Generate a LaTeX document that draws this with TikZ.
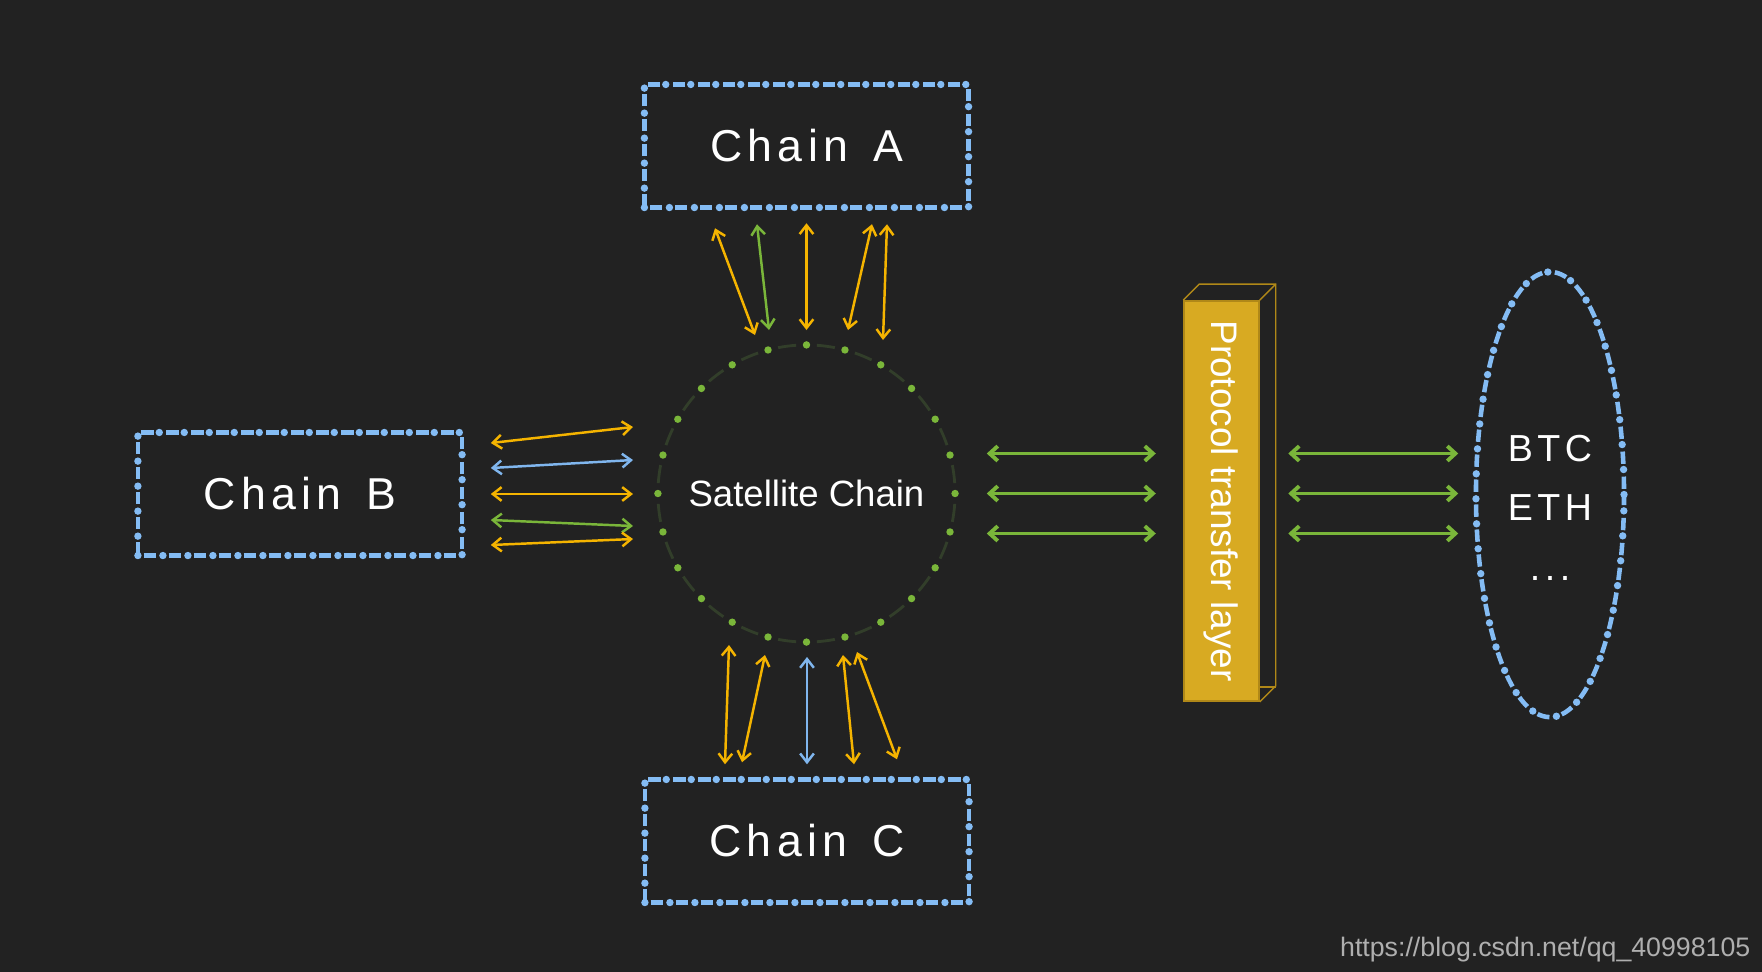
\documentclass[tikz,border=0pt]{standalone}
\usepackage{fontspec}
\setmainfont{Liberation Sans}
\usepackage{tikz}
\usetikzlibrary{positioning,arrows.meta,shapes.geometric,calc}
\definecolor{darkbg}{RGB}{34,34,34}
\definecolor{chainblue}{RGB}{132,188,244}
\definecolor{linkamber}{RGB}{245,180,0}
\definecolor{linkgreen}{RGB}{122,182,58}
\definecolor{linkblue}{RGB}{128,182,238}
\definecolor{ringdash}{RGB}{50,62,42}
\definecolor{layergold}{RGB}{216,170,34}
\definecolor{layeredge}{RGB}{176,136,24}
\definecolor{markgray}{RGB}{175,175,175}
\newfontfamily\chainfont[LetterSpace=12]{Liberation Sans}
\tikzset{
  dotdash/.style={preaction={draw=chainblue, line width=1.3pt, dash pattern=on 3.5pt off 3.61pt, dash phase=5.5pt},
                  postaction={draw=chainblue, line width=2.1pt, line cap=round, dash pattern=on 0pt off 7.11pt}},
  chainbox/.style={dotdash, rectangle, minimum width=3.24cm, minimum height=1.23cm, inner sep=0pt,
                   text=white, font=\chainfont\fontsize{12.7}{15}\selectfont},
  link/.style={<->, >={Straight Barb[length=2.5pt,width=3.9pt]}, line width=0.7pt},
  bus/.style={<->, >={Straight Barb[length=2.3pt,width=4.2pt]}, draw=linkgreen, line width=1.1pt}
}

\begin{document}
\begin{tikzpicture}[x=0.01cm, y=-0.01cm]
  \fill[darkbg] (0,0) rectangle (1762,972);
  % chains around the satellite
  \node[chainbox] (chainA) at (806.5,146) {Chain\hspace{2pt} A};
  \node[chainbox] (chainB) at (300,494) {Chain\hspace{2pt} B};
  \node[chainbox] (chainC) at (807,841) {Chain\hspace{2pt} C};
  \node[circle, minimum size=2.97cm, inner sep=0pt, text=white, font=\fontsize{10.4}{12}\selectfont]
       (sat) at (806.5,493.5) {Satellite Chain};
  \foreach \a in {0,15,...,345} {
    \draw[ringdash, line width=0.8pt] ($(sat.center)+(\a+4:1.485cm)$) arc[start angle=\a+4, end angle=\a+11, radius=1.485cm];
    \fill[linkgreen] ($(sat.center)+(\a:1.485cm)$) circle[radius=0.037cm];
  }
  % protocol layer
  \node[rectangle, minimum width=0.75cm, minimum height=4cm, inner sep=0pt, fill=layergold, draw=layeredge, line width=0.4pt]
       (layer) at (1221.5,501) {};
  \draw[layeredge, line width=0.4pt] (layer.north west) -- ++(16,-16) -- ($(layer.north east)+(16,-16)$)
       -- ($(layer.south east)+(16,-16)$) -- (layer.south east);
  \draw[layeredge, line width=0.4pt] (layer.north east) -- ++(16,-16);
  \draw[layeredge, line width=0.4pt] ($(layer.south east)+(0,-15)$) -- ++(16,0);
  \node[rotate=-90, text=white, font=\fontsize{10.5}{12}\selectfont] (layertext) at (layer) {Protocol transfer layer};
  % outside chains
  \node[dotdash, ellipse, minimum width=1.48cm, minimum height=4.45cm, inner sep=0pt] (others) at (1550,494.5) {};
  \node[anchor=base, text=white, font=\chainfont\fontsize{10.7}{12}\selectfont] (btc) at (1550,461.5) {BTC};
  \node[anchor=base, text=white, font=\chainfont\fontsize{10.7}{12}\selectfont] (eth) at (1550,520.5) {ETH};
  \node[anchor=base, text=white, font=\chainfont\fontsize{10.7}{12}\selectfont] (more) at (1550,580) {...};
  % links
  \foreach \dxa/\dya/\dxb/\dyb/\col in {-91.5/20/-51.5/-158.5/linkamber, -49.5/16/-37.5/-163.5/linkgreen,
      0/15/0/-163.5/linkamber, 65.5/16/41.5/-163.5/linkamber, 80.5/16/76.5/-153.5/linkamber}
    \draw[link, draw=\col] ($(chainA.south)+(\dxa,\dya)$) -- ($(sat.center)+(\dxb,\dyb)$);
  \foreach \dxa/\dya/\dxb/\dyb/\col in {-77.5/151.5/-82/-14.5/linkamber, -41.5/161.5/-65/-16.5/linkamber,
      0.5/163.5/0/-14.5/linkblue, 36.5/161.5/47/-14.5/linkamber, 50.5/158.5/90/-19.5/linkamber}
    \draw[link, draw=\col] ($(sat.center)+(\dxa,\dya)$) -- ($(chainC.north)+(\dxb,\dyb)$);
  \foreach \dya/\dyb/\col in {-51/-66.5/linkamber, -26/-33.5/linkblue, 0/0.5/linkamber, 26/32.5/linkgreen, 51/45.5/linkamber}
    \draw[link, draw=\col] ($(chainB.east)+(28,\dya)$) -- ($(sat.center)+(-173.5,\dyb)$);
  \foreach \dy in {-40,0,40} {
    \draw[bus] ($(sat.east)+(31,\dy)$) -- ($(sat.east)+(200,\dy)$);
    \draw[bus] ($(others.west)+(-187,\dy-1)$) -- ($(others.west)+(-17,\dy-1)$);
  }
  \node[anchor=base east, inner sep=0pt, text=markgray, font=\fontsize{7.6}{9}\selectfont] (mark) at (1751,956) {https://blog.csdn.net/qq\_40998105};
\end{tikzpicture}
\end{document}
